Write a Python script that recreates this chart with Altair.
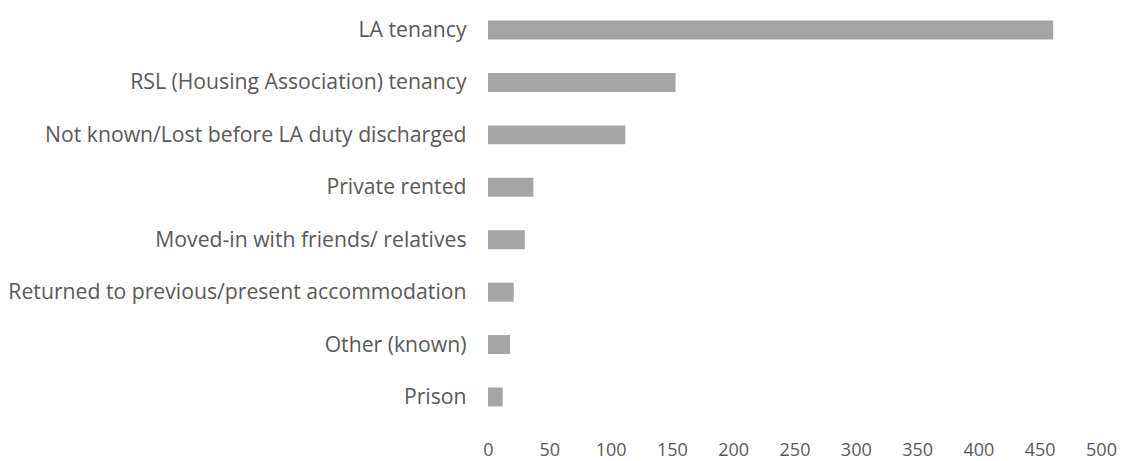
import altair as alt
import pandas as pd

categories = [
    "LA tenancy",
    "RSL (Housing Association) tenancy",
    "Not known/Lost before LA duty discharged",
    "Private rented",
    "Moved-in with friends/ relatives",
    "Returned to previous/present accommodation",
    "Other (known)",
    "Prison",
]
values = [461, 153, 112, 37, 30, 21, 18, 12]
x_ticks = [0, 50, 100, 150, 200, 250, 300, 350, 400, 450, 500]

df = pd.DataFrame({"category": categories, "value": values})

font = "Open Sans"
text_color = "#595959"

chart = (
    alt.Chart(df)
    .mark_bar(color="#a5a5a5")
    .encode(
        x=alt.X(
            "value:Q",
            scale=alt.Scale(domain=[0, 500], nice=False),
            axis=alt.Axis(
                values=x_ticks,
                title=None,
                grid=False,
                domain=False,
                ticks=False,
                labelFlush=False,
                labelPadding=23,
                labelFontSize=18,
                labelColor=text_color,
                labelFont=font,
            ),
        ),
        y=alt.Y(
            "category:N",
            sort=categories,
            scale=alt.Scale(paddingInner=0.638, paddingOuter=0.22),
            axis=alt.Axis(
                title=None,
                domain=False,
                ticks=False,
                labelPadding=22,
                labelFontSize=21.2,
                labelColor=text_color,
                labelFont=font,
                labelLimit=600,
                labelOffset=1,
            ),
        ),
    )
    .properties(
        width=613,
        height=409,
        autosize=alt.AutoSizeParams(type="none"),
        padding={"left": 480, "top": 1, "right": 16, "bottom": 43},
    )
    .configure_view(stroke=None)
)

chart.save("out.html", embed_options={"renderer": "svg", "actions": False})
